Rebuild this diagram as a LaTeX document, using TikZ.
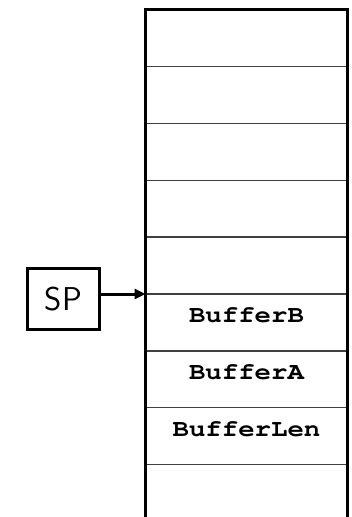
\documentclass[tikz,border=0pt]{standalone}
\usepackage{fontspec}
\usetikzlibrary{arrows.meta}
% bold Courier (psnfss) for the cell contents
\newcommand{\cellfont}{\fontencoding{T1}\fontfamily{pcr}\fontseries{b}\selectfont}
\begin{document}
\begin{tikzpicture}[x=1pt,y=-1pt,
  stackline/.style={line width=3pt},
  sepline/.style={line width=1.3pt, black!75},
  cell/.style={minimum width=202pt, minimum height=56.9pt, inner sep=0pt, outer sep=0pt},
  celltext/.style={anchor=base, inner sep=0pt,
    font=\cellfont\fontsize{24}{24}\selectfont},
  regbox/.style={draw, line width=3pt, minimum width=71.7pt, minimum height=60.4pt,
    inner sep=0pt, font=\sffamily\fontsize{33}{33}\selectfont},
  pointer/.style={line width=3pt, -{Triangle[length=11pt,width=10pt]}}
]
\clip (0,0) rectangle (351,517);

% stack cells, top to bottom
\foreach \i in {0,...,8}
  \node[cell, anchor=north west] (c\i) at (145.5,{9.5+\i*56.9}) {};

% cell separators
\foreach \i in {1,...,8}
  \draw[sepline] (c\i.north west) -- (c\i.north east);

% stack outline, open at the bottom
\draw[stackline] (c8.south west) -- (c0.north west) -- (c0.north east) -- (c8.south east);

% cell contents
\node[celltext] (t5) at (c5.center) {\scalebox{1.14}[1]{BufferB}};
\node[celltext] (t6) at (c6.center) {\scalebox{1.14}[1]{BufferA}};
\node[celltext] (t7) at (c7.center) {\scalebox{1.14}[1]{BufferLen}};

% stack pointer
\node[regbox] (sp) at (63.3,299) {SP};
\draw[pointer] (sp.east |- c5.north west) -- (c5.north west);
\end{tikzpicture}
\end{document}
